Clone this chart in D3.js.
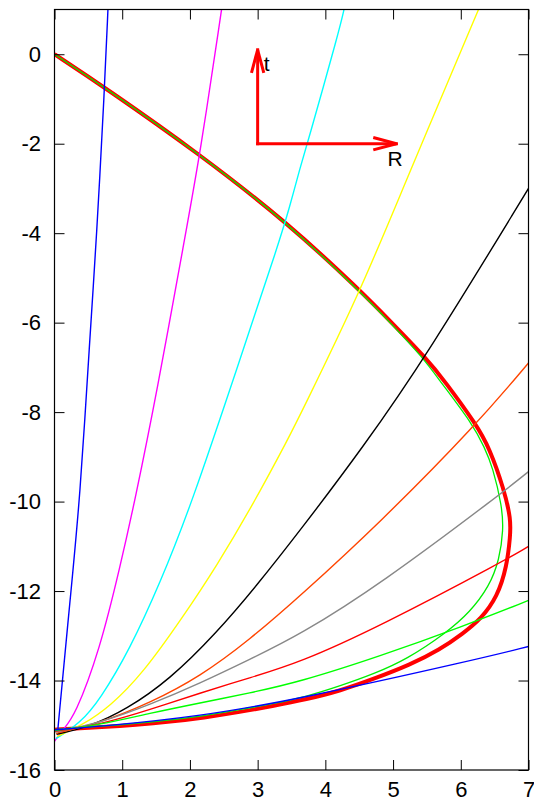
<!DOCTYPE html>
<html>
<head>
<meta charset="utf-8">
<script src="https://cdn.jsdelivr.net/npm/d3@7"></script>
<style>
  body { margin: 0; background: #fff; }
  svg { display: block; }
  .axis text { font-family: "Liberation Sans", Arial, sans-serif; font-size: 22px; fill: #000; }
  .axis line { stroke: #000; stroke-width: 1; }
</style>
</head>
<body>
<svg width="534" height="802"></svg>
<script>
// tick values
var xTicks = [0, 1, 2, 3, 4, 5, 6, 7];
var yTicks = [-16, -14, -12, -10, -8, -6, -4, -2, 0];

// thick red boundary curve (R, t)
var boundaryRed = [[0,0],[0.74,-0.74],[2.15,-2.24],[3.45,-3.78],[4.5,-5.26],[4.98,-6.0],[5.49,-6.8],
  [5.76,-7.3],[6.23,-8.28],[6.42,-8.79],[6.64,-9.73],[6.74,-10.4],[6.73,-10.78],[6.68,-11.45],[6.54,-12.13],
  [6.3,-12.62],[6.03,-12.95],[5.69,-13.31],[5.25,-13.65],[4.72,-13.96],[4.22,-14.23],[3.72,-14.42],
  [3.22,-14.57],[2.71,-14.71],[2.21,-14.83],[1.71,-14.92],[1.2,-14.99],[0.7,-15.04],[0.2,-15.08],[0,-15.1]];

// thin green boundary curve
var boundaryGreen = [[0,0],[0.74,-0.74],[2.15,-2.24],[3.45,-3.78],[4.48,-5.26],[4.96,-6.0],[5.45,-6.8],
  [5.69,-7.3],[6.18,-8.28],[6.35,-8.79],[6.47,-9.22],[6.61,-10.11],[6.63,-10.63],[6.57,-11.3],[6.42,-11.9],
  [6.13,-12.48],[5.79,-12.93],[5.2,-13.53],[4.72,-13.85],[4.22,-14.12],[3.72,-14.36],
  [3.22,-14.52],[2.71,-14.66],[2.21,-14.79],[1.71,-14.88],[1.2,-14.96],[0.7,-15.02],[0.2,-15.07],[0,-15.1]];

// fan of curves leaving the bottom left
var fanBlueSteep = [[0.05,-15.08],[0.23,-12.19],[0.376,-9.96],[0.52,-6.38],[0.62,-4.14],[0.74,-0.74],[0.79,1.03]];
var fanMagenta = [[0,-15.36],[0.12,-15.1],[0.3,-14.8],[0.67,-13.31],[0.97,-11.45],[1.19,-9.96],[1.51,-7.57],[1.92,-4.14],[2.15,-2.24],[2.47,1.03]];
var fanCyan = [[0.02,-15.3],[0.38,-14.95],[0.67,-14.43],[1.11,-13.31],[1.56,-11.82],[2.02,-10.07],[2.7,-7.0],[3.33,-4.14],[3.47,-3.43],[3.62,-2.57],[3.74,-1.97],[4.21,0.56],[4.28,1.03]];
var fanYellow = [[0.04,-15.25],[0.42,-14.99],[0.82,-14.58],[1.31,-13.83],[1.9,-12.57],[2.39,-11.45],[2.93,-10.07],[3.47,-8.54],[3.62,-8.09],[4.53,-5.26],[5.17,-2.9],[6.27,1.03]];
var fanBlack = [[0.03,-15.2],[0.52,-15.03],[1.06,-14.65],[1.7,-13.98],[2.39,-12.94],[2.98,-11.89],[3.62,-10.66],[4.55,-8.8],[5.49,-6.75],[7,-3.0]];
var fanOrange = [[0.02,-15.18],[0.67,-14.95],[1.41,-14.5],[2.15,-13.91],[2.88,-13.09],[3.62,-12.12],[4.8,-10.48],[6.23,-8.28],[7,-6.9]];
var fanGray = [[0.01,-15.15],[0.67,-14.95],[1.41,-14.54],[2.15,-14.06],[2.88,-13.53],[3.62,-12.98],[4.8,-11.86],[6.64,-9.77],[7,-9.33]];
var fanRed = [[0.01,-15.13],[0.67,-14.99],[1.41,-14.65],[2.15,-14.28],[2.88,-13.94],[3.62,-13.6],[4.8,-12.79],[6.67,-11.3],[7,-11.0]];
var fanGreen = [[0,-15.12],[0.67,-14.99],[1.41,-14.73],[2.15,-14.5],[2.88,-14.28],[3.62,-14.03],[4.8,-13.46],[6.03,-12.79],[7,-12.21]];
var fanBlue = [[0,-15.1],[0.67,-15.03],[2.15,-14.8],[3.62,-14.41],[6.23,-13.53],[7,-13.24]];

var fanCurves = [fanBlueSteep, fanMagenta, fanCyan, fanYellow, fanBlack, fanOrange, fanGray, fanRed, fanGreen, fanBlue];
var fanColors = ['#0000ff', '#ff00ff', '#00ffff', '#ffff00', '#000000', '#ff4500', '#888888', '#ff0000', '#00ff00', '#0000ff'];

// the R/t arrows
var arrowOrigin = [3, -2];
var arrowTips = [[3, 0.1], [5.05, -2]];
var arrowLabels = ['t', 'R'];

var margin = {left: 54.5, right: 5.5, top: 9.5, bottom: 32};
var W = 534, H = 802;

var svg = d3.select('svg');

var x = d3.scaleLinear().domain([0, 7]).range([margin.left, W - margin.right]);
var y = d3.scaleLinear().domain([-16, 1]).range([H - margin.bottom, margin.top]);

svg.append('clipPath').attr('id', 'plot')
  .append('rect')
  .attr('x', x(0)).attr('y', y(1))
  .attr('width', x(7) - x(0)).attr('height', y(-16) - y(1));

// readings are a bit noisy, a basis spline smooths them
var line = d3.line()
  .x(function(d){ return x(d[0]); })
  .y(function(d){ return y(d[1]); })
  .curve(d3.curveBasis);

var plot = svg.append('g').attr('clip-path', 'url(#plot)');

// thick boundary first, green on it
plot.append('path')
  .attr('d', line(boundaryRed))
  .attr('fill', 'none').attr('stroke', '#ff0000').attr('stroke-width', 4);

plot.append('path')
  .attr('d', line(boundaryGreen))
  .attr('fill', 'none').attr('stroke', '#00ee00').attr('stroke-width', 1.3);

plot.selectAll('path.fan')
  .data(fanCurves)
  .enter()
  .append('path')
  .attr('class', 'fan')
  .attr('d', line)
  .attr('fill', 'none')
  .attr('stroke', function(d, i){ return fanColors[i]; })
  .attr('stroke-width', 1.4);

// arrows with open heads
var arrows = svg.append('g');
arrowTips.forEach(function(tip){
  var x0 = x(arrowOrigin[0]), y0 = y(arrowOrigin[1]);
  var x1 = x(tip[0]), y1 = y(tip[1]);
  var ang = Math.atan2(y1 - y0, x1 - x0);
  var len = 24, spread = 0.26;
  arrows.append('line')
    .attr('x1', x0).attr('y1', y0).attr('x2', x1).attr('y2', y1)
    .attr('stroke', '#ff0000').attr('stroke-width', 3).attr('stroke-linecap', 'square');
  [-spread, spread].forEach(function(s){
    arrows.append('line')
      .attr('x1', x1).attr('y1', y1)
      .attr('x2', x1 - len * Math.cos(ang + s))
      .attr('y2', y1 - len * Math.sin(ang + s))
      .attr('stroke', '#ff0000').attr('stroke-width', 3);
  });
});

svg.append('text')
  .attr('x', x(arrowOrigin[0]) + 6).attr('y', y(arrowTips[0][1]) + 21)
  .attr('font-family', '"Liberation Sans", Arial, sans-serif').attr('font-size', 21)
  .text(arrowLabels[0]);
svg.append('text')
  .attr('x', x(arrowTips[1][0]) - 9).attr('y', y(arrowOrigin[1]) + 22)
  .attr('font-family', '"Liberation Sans", Arial, sans-serif').attr('font-size', 21)
  .text(arrowLabels[1]);

// plain hyphen minus like the original
var fmt = function(d){ return String(d); };

// axes, ticks pointing inward on all four sides
svg.append('g').attr('class', 'axis')
  .attr('transform', 'translate(0,' + y(-16) + ')')
  .call(d3.axisBottom(x).tickValues(xTicks).tickSize(-10).tickPadding(11).tickFormat(fmt));
svg.append('g').attr('class', 'axis')
  .attr('transform', 'translate(0,' + y(1) + ')')
  .call(d3.axisTop(x).tickValues(xTicks).tickSize(-10).tickFormat(''));
svg.append('g').attr('class', 'axis')
  .attr('transform', 'translate(' + x(0) + ',0)')
  .call(d3.axisLeft(y).tickValues(yTicks).tickSize(-10).tickPadding(13.5).tickFormat(fmt));
svg.append('g').attr('class', 'axis')
  .attr('transform', 'translate(' + x(7) + ',0)')
  .call(d3.axisRight(y).tickValues(yTicks).tickSize(-10).tickFormat(''));

svg.selectAll('.axis .domain').remove();

svg.append('rect')
  .attr('x', x(0)).attr('y', y(1))
  .attr('width', x(7) - x(0)).attr('height', y(-16) - y(1))
  .attr('fill', 'none').attr('stroke', '#000').attr('stroke-width', 1.2);
</script>
</body>
</html>
